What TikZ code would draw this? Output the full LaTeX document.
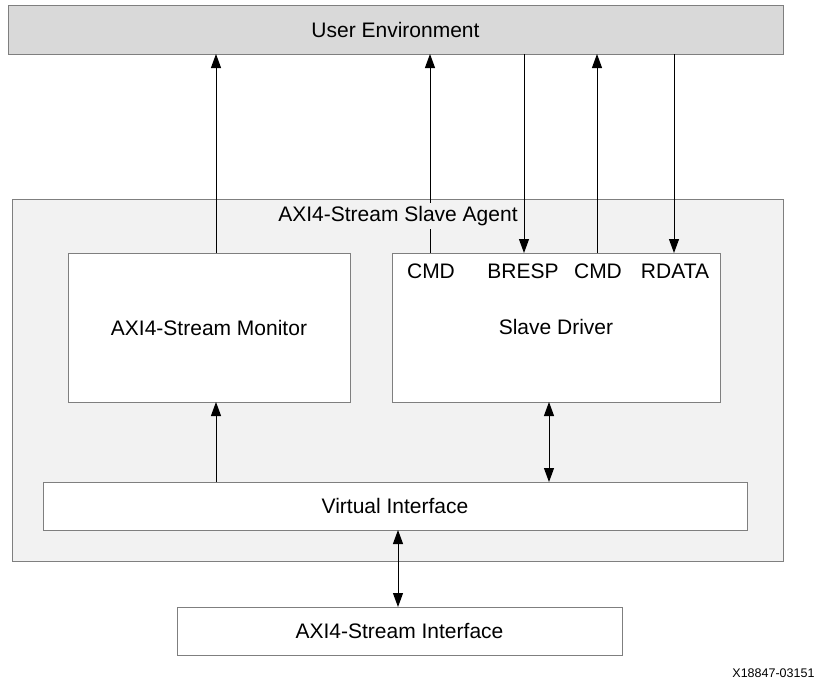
\documentclass[tikz,border=0pt]{standalone}
\usepackage{fontspec}
\setmainfont{Liberation Sans}
\usepackage{tikz}
\usetikzlibrary{arrows.meta,calc,shapes}

\definecolor{uegray}{HTML}{D9D9D9}
\definecolor{agentgray}{HTML}{F2F2F2}
\definecolor{edgegray}{HTML}{7F7F7F}

\begin{document}
\begin{tikzpicture}[x=1pt,y=-1pt,
  font=\fontsize{21}{25}\selectfont,
  >={Triangle[length=14pt,width=10pt]},
  box/.style={draw=edgegray,line width=1pt,fill=white,inner sep=0pt,outer sep=0pt},
  link/.style={line width=1pt,black}]
\useasboundingbox (0,0) rectangle (820,683);
% the blocks
\node[box,fill=uegray,minimum width=775pt,minimum height=49pt] (ue) at (395.5,29.5) {User Environment};
\node[box,fill=agentgray,minimum width=771pt,minimum height=362pt] (agent) at (397.5,380) {};
\node[box,minimum width=282pt,minimum height=149pt] (mon) at (209,327.5) {AXI4-Stream Monitor};
\node[box,minimum width=328pt,minimum height=149pt] (drv) at (556,327.5) {};
\node (drvname) at (556,327) {Slave Driver};
\node[box,minimum width=704pt,minimum height=48pt] (vif) at (395,506) {Virtual Interface};
\node[box,minimum width=445pt,minimum height=48pt] (axi) at (399.5,631) {AXI4-Stream Interface};
% the ports of the driver
\node (cmda) at (431,271) {CMD};
\node (bresp) at (523,271) {BRESP};
\node (cmdb) at (598,271) {CMD};
\node (rdata) at (675,271) {RDATA};
% the links
\draw[link,->] ([xshift=7pt]mon.north) -- ([xshift=7pt]mon.north |- ue.south);
\draw[link,->] ([xshift=-1pt]cmda |- drv.north) -- ([xshift=-1pt]cmda |- ue.south);
\draw[link,->] ([xshift=1pt]bresp |- ue.south) -- ([xshift=1pt]bresp |- drv.north);
\draw[link,->] ([xshift=-1pt]cmdb |- drv.north) -- ([xshift=-1pt]cmdb |- ue.south);
\draw[link,->] ([xshift=-1pt]rdata |- ue.south) -- ([xshift=-1pt]rdata |- drv.north);
\draw[link,->] ([xshift=7pt]mon.north |- vif.north) -- ([xshift=7pt]mon.south);
\draw[link,<->] ([xshift=-7pt]drv.south) -- ([xshift=-7pt]drv.south |- vif.north);
\draw[link,<->] ([xshift=-1.5pt]axi.north |- vif.south) -- ([xshift=-1.5pt]axi.north);
% the label of the agent
\node[fill=agentgray,inner sep=3pt] (agentname) at (398,216) {AXI4-Stream Slave Agent};
\node[anchor=east,font=\fontsize{12.5}{15}\selectfont] (figid) at (818,673) {X18847-03151};
\end{tikzpicture}
\end{document}
